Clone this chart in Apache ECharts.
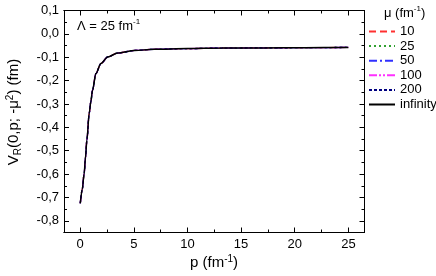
<!DOCTYPE html>
<html>
<head>
<meta charset="utf-8">
<script src="https://cdn.jsdelivr.net/npm/echarts@6/dist/echarts.min.js"></script>
<style>html,body{margin:0;padding:0;background:#fff}#c{width:436px;height:276px}</style>
</head>
<body>
<div id="c"></div>
<script>
// ---- data ----
var seriesNames = ['10', '25', '50', '100', '200', 'infinity'];
var pValues = [0.02, 0.2, 0.38, 0.5, 0.63, 0.85, 1.0, 1.16, 1.47, 1.94, 2.57, 3.5, 5.08, 6.9, 10, 13.2, 17, 21, 25];
var v_mu10   = [-0.725, -0.665, -0.597, -0.53, -0.455, -0.34, -0.29, -0.241, -0.17, -0.127, -0.099, -0.082, -0.071, -0.066, -0.063, -0.061, -0.060, -0.059, -0.058];
var v_mu25   = [-0.725, -0.665, -0.597, -0.53, -0.455, -0.34, -0.29, -0.241, -0.17, -0.127, -0.099, -0.082, -0.071, -0.066, -0.063, -0.061, -0.060, -0.059, -0.058];
var v_mu50   = [-0.725, -0.665, -0.597, -0.53, -0.455, -0.34, -0.29, -0.241, -0.17, -0.127, -0.099, -0.082, -0.071, -0.066, -0.063, -0.061, -0.060, -0.059, -0.058];
var v_mu100  = [-0.725, -0.665, -0.597, -0.53, -0.455, -0.34, -0.29, -0.241, -0.17, -0.127, -0.099, -0.082, -0.071, -0.066, -0.063, -0.061, -0.060, -0.059, -0.058];
var v_mu200  = [-0.725, -0.665, -0.597, -0.53, -0.455, -0.34, -0.29, -0.241, -0.17, -0.127, -0.099, -0.082, -0.071, -0.066, -0.063, -0.061, -0.060, -0.059, -0.058];
var v_muInf  = [-0.725, -0.665, -0.597, -0.53, -0.455, -0.34, -0.29, -0.241, -0.17, -0.127, -0.099, -0.082, -0.071, -0.066, -0.063, -0.061, -0.060, -0.059, -0.058];
var xMajorTicks = [0, 5, 10, 15, 20, 25];
var xMinorTicks = [2.5, 7.5, 12.5, 17.5, 22.5];
var yMajorTicks = [-0.8, -0.7, -0.6, -0.5, -0.4, -0.3, -0.2, -0.1, 0.0, 0.1];
var yMinorTicks = [-0.85, -0.75, -0.65, -0.55, -0.45, -0.35, -0.25, -0.15, -0.05, 0.05];

// ---- styles ----
var allValues = [v_mu10, v_mu25, v_mu50, v_mu100, v_mu200, v_muInf];
var colors = ['#ff3030', '#30a030', '#3030ff', '#ff30ff', '#000080', '#000000'];
var dashes = [[7, 4], [2, 3], [8, 3, 2, 3], [8, 2, 2, 2, 2, 2], [3, 2], 'solid'];
var widths = [1.3, 1.3, 1.3, 1.3, 1.3, 1.5];
var FONT = 'Liberation Sans, Arial, sans-serif';

function pairs(xs, ys) { return xs.map(function (x, i) { return [x, ys[i]]; }); }

function xAxisDef(pos, ticks, len, labels) {
  return {
    type: 'value', position: pos, min: -1.5, max: 26.5, gridIndex: 0,
    axisLine: { show: true, onZero: false, lineStyle: { color: '#000', width: 1 } },
    axisTick: { show: true, inside: true, length: len, customValues: ticks, lineStyle: { color: '#000', width: 1 } },
    axisLabel: { show: labels, customValues: ticks, color: '#000', fontSize: 13, fontFamily: FONT, margin: 5 },
    splitLine: { show: false }
  };
}
function yAxisDef(pos, ticks, len, labels) {
  return {
    type: 'value', position: pos, min: -0.85, max: 0.1, gridIndex: 0,
    axisLine: { show: true, onZero: false, lineStyle: { color: '#000', width: 1 } },
    axisTick: { show: true, inside: true, length: len, customValues: ticks, lineStyle: { color: '#000', width: 1 } },
    axisLabel: { show: labels, customValues: ticks, color: '#000', fontSize: 13, fontFamily: FONT, margin: 5,
      formatter: function (v) { return v.toFixed(1).replace('.', ','); } },
    splitLine: { show: false }
  };
}

var series = seriesNames.map(function (n, i) {
  return {
    name: n, type: 'line', xAxisIndex: 0, yAxisIndex: 0,
    data: pairs(pValues, allValues[i]),
    symbol: 'none', smooth: 0.3, smoothMonotone: 'x',
    lineStyle: { color: colors[i], width: widths[i], type: dashes[i] },
    itemStyle: { color: colors[i] },
    z: 2 + i, animation: false
  };
});

var richT = function (size) {
  return {
    m: { fontSize: size, fontFamily: FONT, fill: '#000', lineHeight: size + 3 },
    s: { fontSize: Math.round(size * 0.65), fontFamily: FONT, fill: '#000', lineHeight: Math.round(size * 0.65), verticalAlign: 'top' },
    b: { fontSize: Math.round(size * 0.65), fontFamily: FONT, fill: '#000', lineHeight: Math.round(size * 0.65), verticalAlign: 'bottom' }
  };
};

var chart = echarts.init(document.getElementById('c'), null, { renderer: 'canvas' });
chart.setOption({
  animation: false,
  grid: { left: 64, right: 71.5, top: 10.5, bottom: 43.5, containLabel: false },
  xAxis: [
    xAxisDef('bottom', xMajorTicks, 5, true),
    xAxisDef('bottom', xMinorTicks, 3, false),
    xAxisDef('top', xMajorTicks, 5, false),
    xAxisDef('top', xMinorTicks, 3, false)
  ],
  yAxis: [
    yAxisDef('left', yMajorTicks, 5, true),
    yAxisDef('left', yMinorTicks, 3, false),
    yAxisDef('right', yMajorTicks, 5, false),
    yAxisDef('right', yMinorTicks, 3, false)
  ],
  legend: {
    orient: 'vertical', left: 368, top: 25, padding: 0,
    itemWidth: 26, itemHeight: 14, itemGap: 1.6,
    data: seriesNames,
    itemStyle: { opacity: 0 },
    textStyle: { color: '#000', fontSize: 13, fontFamily: FONT },
    selectedMode: false
  },
  series: series,
  graphic: [
    {
      type: 'text', left: 77, top: 18,
      style: { text: '{m|Λ = 25 fm}{s|-1}', rich: richT(13) }
    },
    {
      type: 'text', left: 384, top: 5,
      style: { text: '{m|μ (fm}{s|-1}{m|)}', rich: richT(13) }
    },
    {
      type: 'text', x: 214, y: 263,
      style: { text: '{m|p (fm}{s|-1}{m|)}', align: 'center', verticalAlign: 'middle', rich: richT(15) }
    },
    {
      type: 'text', x: 14, y: 112, rotation: Math.PI / 2,
      style: { text: '{m|V}{b|R}{m|(0,p; -μ}{s|2}{m|) (fm)}', align: 'center', verticalAlign: 'middle', rich: richT(15) }
    }
  ]
});
</script>
</body>
</html>
